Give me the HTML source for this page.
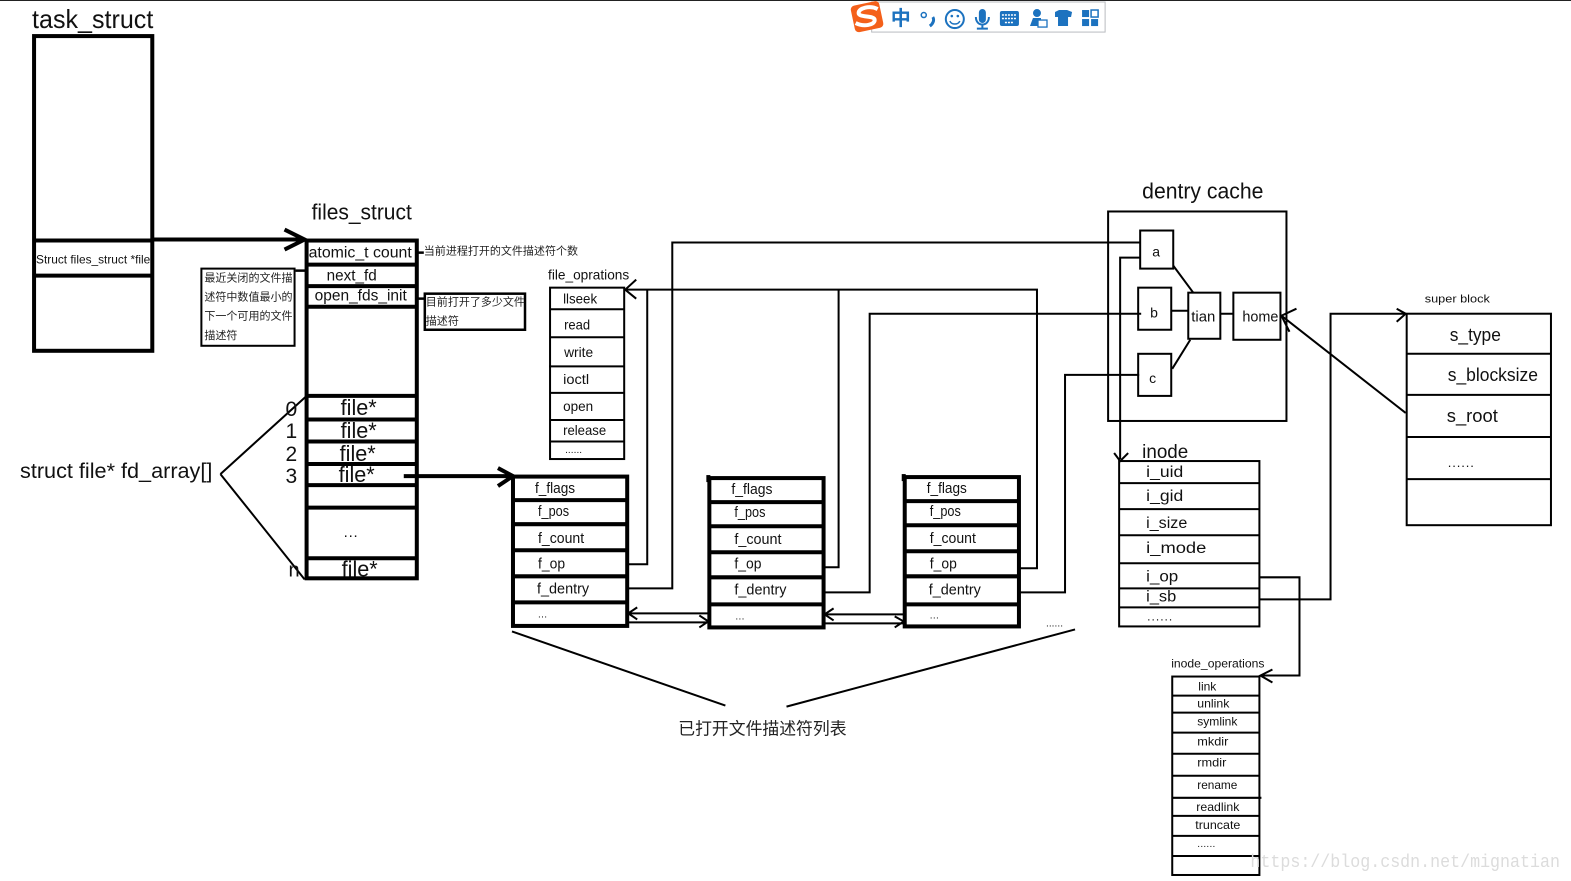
<!DOCTYPE html>
<html><head><meta charset="utf-8"><style>
html,body{margin:0;padding:0;background:#fff;width:1571px;height:881px;overflow:hidden}
svg{display:block;filter:blur(0.35px)}
text{font-family:"Liberation Sans","Noto Sans CJK SC",sans-serif;fill:#111}
.cjk{font-family:"Noto Sans CJK SC","Liberation Sans",sans-serif;fill:#222}
line,rect,path,polyline{stroke-linecap:butt}
.l4 line,.l4 rect,.l4 path{stroke-width:4}
.l3 line,.l3 rect,.l3 path{stroke-width:2.500}
.l2 line,.l2 rect,.l2 path,.l2 polyline{stroke-width:2}
g{stroke:#000;fill:none}
g.t{stroke:none;fill:#111}
</style></head><body>
<svg width="1571" height="881" viewBox="0 0 1568 879" preserveAspectRatio="none" xmlns="http://www.w3.org/2000/svg">
<rect width="1571" height="881" fill="#fff"/>
<rect x="0" y="0" width="1571" height="1" fill="#222"/>

<!-- task_struct -->
<g class="l4"><rect x="34" y="36" width="118" height="314"/><line x1="34" y1="240" x2="152" y2="240"/><line x1="34" y1="275" x2="152" y2="275"/>
<path d="M152 239H304M284 229L304 239L284 249"/></g>

<!-- files_struct -->
<g class="l4"><rect x="306" y="240" width="110" height="337"/>
<line x1="306" y1="264" x2="416" y2="264"/><line x1="306" y1="285.500" x2="416" y2="285.500"/><line x1="306" y1="306" x2="416" y2="306"/>
<line x1="306" y1="395" x2="416" y2="395"/><line x1="306" y1="418.500" x2="416" y2="418.500"/><line x1="306" y1="440.500" x2="416" y2="440.500"/><line x1="306" y1="463" x2="416" y2="463"/><line x1="306" y1="484" x2="416" y2="484"/><line x1="306" y1="506.500" x2="416" y2="506.500"/><line x1="306" y1="557" x2="416" y2="557"/>
<path d="M403 475H511M497 467L512 475L497 485"/></g>
<g class="l2"><path d="M220 473L305 396M220 473L304 578"/></g>
<g class="l3"><path d="M416 252H423M416 298H424M295 270H305"/></g>
<g class="l2"><rect x="201" y="268" width="93" height="77"/></g>
<g class="l3"><rect x="424" y="293" width="100" height="36"/></g>

<!-- file_oprations -->
<g class="l2"><rect x="549" y="287" width="74" height="171"/>
<line x1="549" y1="308.500" x2="623" y2="308.500"/><line x1="549" y1="336.500" x2="623" y2="336.500"/><line x1="548" y1="365.500" x2="623" y2="365.500"/><line x1="549" y1="392" x2="623" y2="392"/><line x1="549" y1="419" x2="623" y2="419"/><line x1="549" y1="440.500" x2="623" y2="440.500"/>
<path d="M635 279L624 289L635 298M624 289H1035V567H1018M837 289V566H823M646 289V563H627"/>
<path d="M627 587H671V242H1138M823 591H868V313H1139M1018 591H1063V374H1137"/>
</g>

<!-- open file boxes -->
<g class="l4"><rect x="512" y="475.500" width="114" height="149"/><line x1="512" y1="499" x2="626" y2="499"/><line x1="512" y1="523" x2="626" y2="523"/><line x1="512" y1="549" x2="626" y2="549"/><line x1="512" y1="575" x2="626" y2="575"/><line x1="512" y1="601" x2="626" y2="601"/></g>
<g class="l4"><rect x="708" y="477" width="114" height="149"/><line x1="708" y1="501" x2="822" y2="501"/><line x1="708" y1="525" x2="822" y2="525"/><line x1="708" y1="551" x2="822" y2="551"/><line x1="708" y1="576" x2="822" y2="576"/><line x1="708" y1="603" x2="822" y2="603"/><line x1="707" y1="474" x2="707" y2="481"/></g>
<g class="l4"><rect x="903" y="476" width="114" height="149"/><line x1="903" y1="500" x2="1017" y2="500"/><line x1="903" y1="524" x2="1017" y2="524"/><line x1="903" y1="550" x2="1017" y2="550"/><line x1="903" y1="575" x2="1017" y2="575"/><line x1="903" y1="603" x2="1017" y2="603"/><line x1="902" y1="473" x2="902" y2="480"/></g>
<g class="l2"><path d="M627 612H708M636 606L627 612L636 618M627 621H707M698 614L707 620L698 626"/>
<path d="M823 613H903M832 607L823 613L832 619M823 622H902M893 615L902 620L893 626"/>
<path d="M511 630L724 704M785 705L1073 628"/></g>

<!-- dentry cache -->
<g class="l2"><rect x="1106" y="211" width="178" height="209"/><rect x="1138" y="230" width="33" height="38"/><rect x="1136" y="287" width="33" height="42"/><rect x="1136" y="353" width="33" height="42"/><rect x="1186" y="292" width="32" height="46"/><rect x="1231" y="292" width="47" height="47"/>
<path d="M1171 265L1191 292M1169 310H1186M1170 368L1188 339M1218 313H1231"/>
<path d="M1138 257H1118V458M1112 452L1118 460L1126 452"/>
<path d="M1403 412L1279 315M1294 308L1279 315L1287 331"/></g>

<!-- inode -->
<g class="l2"><rect x="1117" y="460" width="140" height="165"/><line x1="1117" y1="482" x2="1257" y2="482"/><line x1="1117" y1="508" x2="1257" y2="508"/><line x1="1117" y1="534" x2="1257" y2="534"/><line x1="1117" y1="562" x2="1257" y2="562"/><line x1="1117" y1="587" x2="1257" y2="587"/><line x1="1117" y1="606" x2="1257" y2="606"/>
<path d="M1257 576H1297V674H1258M1270 668L1258 674L1270 681M1257 598H1328V313H1403M1394 308L1403 313L1394 321"/></g>

<!-- super block -->
<g class="l2"><rect x="1404" y="313" width="144" height="211"/><line x1="1404" y1="353" x2="1548" y2="353"/><line x1="1404" y1="394" x2="1548" y2="394"/><line x1="1404" y1="436" x2="1548" y2="436"/><line x1="1404" y1="478" x2="1548" y2="478"/></g>

<!-- inode_operations -->
<g class="l2"><rect x="1170" y="675" width="87" height="198"/><line x1="1170" y1="694" x2="1257" y2="694"/><line x1="1170" y1="711" x2="1257" y2="711"/><line x1="1170" y1="731" x2="1257" y2="731"/><line x1="1170" y1="752" x2="1257" y2="752"/><line x1="1170" y1="774" x2="1257" y2="774"/><line x1="1170" y1="796" x2="1259" y2="796"/><line x1="1170" y1="814" x2="1257" y2="814"/><line x1="1170" y1="834" x2="1257" y2="834"/><line x1="1170" y1="854" x2="1257" y2="854"/></g>

<!-- labels -->
<g class="t">
<text x="32" y="28" font-size="26" textLength="121" lengthAdjust="spacingAndGlyphs">task_struct</text>
<text x="311" y="219" font-size="22" textLength="100" lengthAdjust="spacingAndGlyphs">files_struct</text>
<text x="36" y="263" font-size="12" textLength="114" lengthAdjust="spacingAndGlyphs">Struct files_struct *file</text>
<text x="308" y="257" font-size="16" textLength="103" lengthAdjust="spacingAndGlyphs">atomic_t count</text>
<text x="326" y="280" font-size="16" textLength="50" lengthAdjust="spacingAndGlyphs">next_fd</text>
<text x="314" y="300" font-size="16" textLength="92" lengthAdjust="spacingAndGlyphs">open_fds_init</text>
<text class="cjk" x="423" y="254" font-size="11">当前进程打开的文件描述符个数</text>
<text class="cjk" x="204" y="281" font-size="11">最近关闭的文件描</text>
<text class="cjk" x="204" y="300" font-size="11">述符中数值最小的</text>
<text class="cjk" x="204" y="319" font-size="11">下一个可用的文件</text>
<text class="cjk" x="204" y="338" font-size="11">描述符</text>
<text class="cjk" x="425" y="305" font-size="11">目前打开了多少文件</text>
<text class="cjk" x="425" y="324" font-size="11">描述符</text>
<text x="285" y="415" font-size="21">0</text><text x="285" y="437" font-size="21">1</text><text x="285" y="460" font-size="21">2</text><text x="285" y="482" font-size="21">3</text><text x="288" y="575" font-size="20">n</text>
<text x="340" y="414" font-size="22" textLength="36" lengthAdjust="spacingAndGlyphs">file*</text>
<text x="340" y="437" font-size="22" textLength="36" lengthAdjust="spacingAndGlyphs">file*</text>
<text x="339" y="460" font-size="22" textLength="36" lengthAdjust="spacingAndGlyphs">file*</text>
<text x="338" y="481" font-size="22" textLength="36" lengthAdjust="spacingAndGlyphs">file*</text>
<text x="341" y="575" font-size="22" textLength="36" lengthAdjust="spacingAndGlyphs">file*</text>
<text x="343" y="536" font-size="15" textLength="14">...</text>
<text x="20" y="477" font-size="21" textLength="192" lengthAdjust="spacingAndGlyphs">struct  file* fd_array[]</text>
<text x="547" y="279" font-size="14" textLength="81" lengthAdjust="spacingAndGlyphs">file_oprations</text>
<text x="562" y="303" font-size="14" textLength="34" lengthAdjust="spacingAndGlyphs">llseek</text>
<text x="563" y="329" font-size="14" textLength="26" lengthAdjust="spacingAndGlyphs">read</text>
<text x="563" y="356" font-size="14" textLength="29" lengthAdjust="spacingAndGlyphs">write</text>
<text x="562" y="383" font-size="14" textLength="26" lengthAdjust="spacingAndGlyphs">ioctl</text>
<text x="562" y="410" font-size="14" textLength="30" lengthAdjust="spacingAndGlyphs">open</text>
<text x="562" y="434" font-size="14" textLength="43" lengthAdjust="spacingAndGlyphs">release</text>
<text x="564" y="452" font-size="10" textLength="17">......</text>

<text x="534" y="492" font-size="15" textLength="40" lengthAdjust="spacingAndGlyphs">f_flags</text>
<text x="537" y="515" font-size="15" textLength="31" lengthAdjust="spacingAndGlyphs">f_pos</text>
<text x="537" y="542" font-size="15" textLength="46" lengthAdjust="spacingAndGlyphs">f_count</text>
<text x="537" y="567" font-size="15" textLength="27" lengthAdjust="spacingAndGlyphs">f_op</text>
<text x="536" y="592" font-size="15" textLength="52" lengthAdjust="spacingAndGlyphs">f_dentry</text>
<text x="537" y="616" font-size="10" textLength="9">...</text>

<text x="730" y="493" font-size="15" textLength="41" lengthAdjust="spacingAndGlyphs">f_flags</text>
<text x="733" y="516" font-size="15" textLength="31" lengthAdjust="spacingAndGlyphs">f_pos</text>
<text x="733" y="543" font-size="15" textLength="47" lengthAdjust="spacingAndGlyphs">f_count</text>
<text x="733" y="567" font-size="15" textLength="27" lengthAdjust="spacingAndGlyphs">f_op</text>
<text x="733" y="593" font-size="15" textLength="52" lengthAdjust="spacingAndGlyphs">f_dentry</text>
<text x="734" y="618" font-size="10" textLength="9">...</text>

<text x="925" y="492" font-size="15" textLength="40" lengthAdjust="spacingAndGlyphs">f_flags</text>
<text x="928" y="515" font-size="15" textLength="31" lengthAdjust="spacingAndGlyphs">f_pos</text>
<text x="928" y="542" font-size="15" textLength="46" lengthAdjust="spacingAndGlyphs">f_count</text>
<text x="928" y="567" font-size="15" textLength="27" lengthAdjust="spacingAndGlyphs">f_op</text>
<text x="927" y="593" font-size="15" textLength="52" lengthAdjust="spacingAndGlyphs">f_dentry</text>
<text x="928" y="617" font-size="10" textLength="9">...</text>
<text x="1044" y="625" font-size="10" textLength="17">......</text>
<text class="cjk" x="677" y="733" font-size="16.800">已打开文件描述符列表</text>

<text x="1140" y="198" font-size="22" textLength="121" lengthAdjust="spacingAndGlyphs">dentry cache</text>
<text x="1150" y="256" font-size="14">a</text><text x="1148" y="317" font-size="14">b</text><text x="1147" y="382" font-size="14">c</text>
<text x="1189" y="321" font-size="15" textLength="24" lengthAdjust="spacingAndGlyphs">tian</text>
<text x="1240" y="321" font-size="15" textLength="36" lengthAdjust="spacingAndGlyphs">home</text>

<text x="1140" y="457" font-size="19" textLength="46" lengthAdjust="spacingAndGlyphs">inode</text>
<text x="1144" y="476" font-size="16" textLength="37" lengthAdjust="spacingAndGlyphs">i_uid</text>
<text x="1144" y="500" font-size="16" textLength="37" lengthAdjust="spacingAndGlyphs">i_gid</text>
<text x="1144" y="527" font-size="16" textLength="41" lengthAdjust="spacingAndGlyphs">i_size</text>
<text x="1144" y="552" font-size="16" textLength="60" lengthAdjust="spacingAndGlyphs">i_mode</text>
<text x="1144" y="580" font-size="16" textLength="32" lengthAdjust="spacingAndGlyphs">i_op</text>
<text x="1144" y="600" font-size="16" textLength="30" lengthAdjust="spacingAndGlyphs">i_sb</text>
<text x="1145" y="619" font-size="12" textLength="25">......</text>

<text x="1422" y="302" font-size="11" textLength="65" lengthAdjust="spacingAndGlyphs">super  block</text>
<text x="1447" y="340" font-size="18" textLength="51" lengthAdjust="spacingAndGlyphs">s_type</text>
<text x="1445" y="380" font-size="18" textLength="90" lengthAdjust="spacingAndGlyphs">s_blocksize</text>
<text x="1444" y="421" font-size="18" textLength="51" lengthAdjust="spacingAndGlyphs">s_root</text>
<text x="1445" y="466" font-size="13" textLength="26">......</text>

<text x="1169" y="666" font-size="12" textLength="93" lengthAdjust="spacingAndGlyphs">inode_operations</text>
<text x="1196" y="689" font-size="12" textLength="18" lengthAdjust="spacingAndGlyphs">link</text>
<text x="1195" y="706" font-size="12" textLength="32" lengthAdjust="spacingAndGlyphs">unlink</text>
<text x="1195" y="724" font-size="12" textLength="40" lengthAdjust="spacingAndGlyphs">symlink</text>
<text x="1195" y="744" font-size="12" textLength="31" lengthAdjust="spacingAndGlyphs">mkdir</text>
<text x="1195" y="765" font-size="12" textLength="29" lengthAdjust="spacingAndGlyphs">rmdir</text>
<text x="1195" y="787" font-size="12" textLength="40" lengthAdjust="spacingAndGlyphs">rename</text>
<text x="1194" y="809" font-size="12" textLength="43" lengthAdjust="spacingAndGlyphs">readlink</text>
<text x="1193" y="827" font-size="12" textLength="45" lengthAdjust="spacingAndGlyphs">truncate</text>
<text x="1195" y="845" font-size="10" textLength="18">......</text>
<text x="1248" y="865" font-size="18" textLength="309" lengthAdjust="spacingAndGlyphs" style="font-family:'Liberation Mono',monospace;fill:#dcdcdc">https://blog.csdn.net/mignatian</text>
</g>

<!-- IME toolbar -->
<rect x="870" y="2" width="233" height="30" fill="#fff" stroke="#b9bcc0" stroke-width="1"/>
<rect x="851" y="3" width="29" height="27" rx="4" fill="#f4601a" transform="rotate(-12 866 17)"/>
<path d="M876 9C868 5 857 8 857 13C857 18 873 15 873 20C873 25 862 27 854 23" fill="none" stroke="#fff" stroke-width="4"/>
<text class="cjk" x="889" y="25" font-size="20" font-weight="bold" style="fill:#1c72bf">中</text>
<circle cx="922" cy="15" r="2.500" fill="none" stroke="#1c72bf" stroke-width="1.500"/>
<path d="M931 17C933 20 931 24 928 26" fill="none" stroke="#1c72bf" stroke-width="3"/>
<circle cx="953" cy="19" r="9" fill="none" stroke="#1c72bf" stroke-width="2"/>
<circle cx="950" cy="16" r="1.300" fill="#1c72bf"/><circle cx="956" cy="16" r="1.300" fill="#1c72bf"/>
<path d="M948 21C950 25 956 25 958 21" fill="none" stroke="#1c72bf" stroke-width="1.500"/>
<rect x="977" y="9" width="7" height="14" rx="3.500" fill="#1c72bf"/>
<path d="M974 17C974 27 987 27 987 17M980.500 25V28M975 28.500H986" fill="none" stroke="#1c72bf" stroke-width="2"/>
<rect x="998" y="11" width="19" height="15" rx="2" fill="#1c72bf"/>
<path d="M1000 15H1015M1000 18.500H1015M1003 22.500H1012" stroke="#fff" stroke-width="1.500" stroke-dasharray="2 1" fill="none"/>
<circle cx="1035" cy="13" r="4" fill="#1c72bf"/>
<path d="M1028 26L1031 18H1039V26Z" fill="#1c72bf"/>
<rect x="1036" y="20" width="9" height="7" fill="#fff" stroke="#1c72bf" stroke-width="1.300"/>
<path d="M1053 12L1057 10H1065L1070 12L1069 17H1066V26H1056V17H1053Z" fill="#1c72bf"/>
<rect x="1080" y="10" width="7" height="7" fill="#1c72bf"/><rect x="1089" y="10" width="7" height="7" fill="#fff" stroke="#1c72bf" stroke-width="1.500"/><rect x="1080" y="19" width="7" height="7" fill="#1c72bf"/><rect x="1089" y="19" width="7" height="7" fill="#1c72bf"/>
</svg>
</body></html>
